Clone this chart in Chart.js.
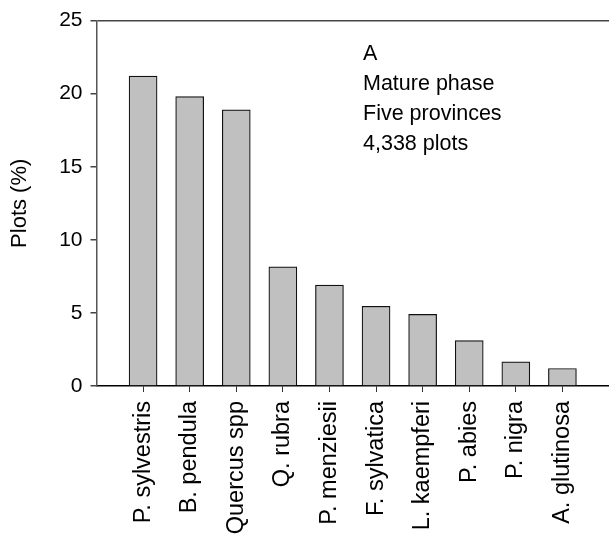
<!DOCTYPE html>
<html>
<head>
<meta charset="utf-8">
<script src="https://cdn.jsdelivr.net/npm/chart.js@4.4.1/dist/chart.umd.min.js"></script>
<style>
  html, body { margin: 0; padding: 0; background: #fff; }
  #wrap { width: 609px; height: 540px; }
</style>
</head>
<body>
<div id="wrap"><canvas id="c" width="609" height="540"></canvas></div>
<script>
// Species and share of plots (%) in the mature phase
const species = ['P. sylvestris', 'B. pendula', 'Quercus spp', 'Q. rubra', 'P. menziesii',
                 'F. sylvatica', 'L. kaempferi', 'P. abies', 'P. nigra', 'A. glutinosa'];
const plotsPct = [21.2, 19.8, 18.9, 8.15, 6.9, 5.45, 4.9, 3.1, 1.65, 1.2];
const yTicks = [0, 5, 10, 15, 20, 25];
const noteLines = ['A', 'Mature phase', 'Five provinces', '4,338 plots'];

const FONT = '"Liberation Sans", Arial, sans-serif';
Chart.defaults.font.family = FONT;
Chart.defaults.color = '#000';

// Text block in the upper right of the plot
const notePlugin = {
  id: 'note',
  afterDraw(chart) {
    const { ctx, scales } = chart;
    ctx.save();
    ctx.font = '21.5px ' + FONT;
    ctx.fillStyle = '#000';
    ctx.textAlign = 'left';
    ctx.textBaseline = 'alphabetic';
    const x = scales.x.getPixelForValue(5.72);
    let y = scales.y.getPixelForValue(22.3);
    noteLines.forEach(line => { ctx.fillText(line, x, y); y += 30; });
    ctx.restore();
  }
};

new Chart(document.getElementById('c'), {
  type: 'bar',
  data: {
    datasets: [{
      data: species.map((s, i) => ({ x: i + 1, y: plotsPct[i] })),
      backgroundColor: '#c0c0c0',
      borderColor: '#111',
      borderWidth: 1.2,
      barThickness: 28,
      grouped: false
    }]
  },
  options: {
    responsive: false,
    animation: false,
    layout: { padding: { top: 17, right: 0, left: 0, bottom: 0 } },
    plugins: { legend: { display: false }, tooltip: { enabled: false } },
    scales: {
      x: {
        type: 'linear',
        offset: false,
        min: 0,
        max: 11,
        afterBuildTicks(scale) {
          scale.ticks = species.map((s, i) => ({ value: i + 1 }));
        },
        afterFit(scale) { scale.height = 154; },
        ticks: {
          autoSkip: false,
          minRotation: 90,
          maxRotation: 90,
          padding: 9,
          font: { size: 23.5 },
          callback: (v) => species[v - 1] || ''
        },
        grid: {
          offset: false,
          drawOnChartArea: false,
          drawTicks: true,
          tickLength: 6,
          tickColor: '#333'
        },
        border: { display: true, color: '#000', width: 1.5 }
      },
      y: {
        min: 0,
        max: 25,
        afterBuildTicks(scale) {
          scale.ticks = yTicks.map(v => ({ value: v }));
        },
        afterFit(scale) { scale.width = 96.5; },
        ticks: { padding: 8, font: { size: 21 } },
        grid: {
          drawOnChartArea: true,
          drawTicks: true,
          tickLength: 6,
          tickColor: '#444',
          color: (c) => (c.tick && c.tick.value === 25) ? '#444' : 'rgba(0,0,0,0)',
          lineWidth: 1.5
        },
        border: { display: true, color: '#555', width: 1.5 },
        title: {
          display: true,
          text: 'Plots (%)',
          font: { size: 22 },
          padding: { top: 7, bottom: 0 }
        }
      }
    }
  },
  plugins: [notePlugin]
});
</script>
</body>
</html>
